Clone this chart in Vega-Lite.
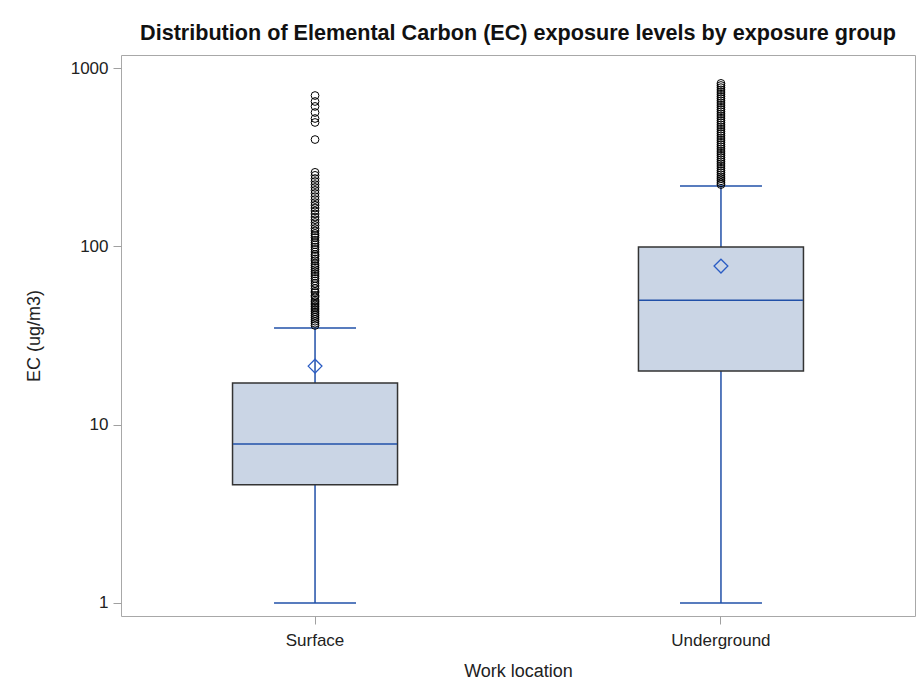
{
  "$schema": "https://vega.github.io/schema/vega-lite/v6.json",
  "width": 794,
  "height": 561,
  "autosize": {"type": "none"},
  "padding": {"left": 121, "top": 55, "right": 8, "bottom": 84},
  "background": "white",
  "title": {
    "text": "Distribution of Elemental Carbon (EC) exposure levels by exposure group",
    "font": "Liberation Sans",
    "fontSize": 21.6,
    "fontWeight": "bold",
    "color": "#111111",
    "anchor": "middle",
    "offset": 10
  },
  "config": {
    "view": {"stroke": "#a8a8a8", "strokeWidth": 1},
    "axis": {
      "labelFont": "Liberation Sans",
      "titleFont": "Liberation Sans",
      "labelColor": "#222222",
      "titleColor": "#222222",
      "tickColor": "#a0a0a0",
      "domain": false,
      "grid": false,
      "labelFontSize": 17,
      "titleFontSize": 18,
      "titleFontWeight": "normal"
    }
  },
  "datasets": {
    "stats": [
      {"loc": "Surface", "lower": 1, "q1": 4.6, "median": 7.8, "q3": 17.1, "upper": 34.8, "mean": 21.3},
      {"loc": "Underground", "lower": 1, "q1": 20, "median": 49.8, "q3": 99, "upper": 218, "mean": 77.5}
    ],
    "outliers": [
      {"loc": "Surface", "ec": 36}, {"loc": "Surface", "ec": 37}, {"loc": "Surface", "ec": 38}, {"loc": "Surface", "ec": 39},
      {"loc": "Surface", "ec": 40}, {"loc": "Surface", "ec": 41}, {"loc": "Surface", "ec": 42}, {"loc": "Surface", "ec": 43},
      {"loc": "Surface", "ec": 44}, {"loc": "Surface", "ec": 45}, {"loc": "Surface", "ec": 46}, {"loc": "Surface", "ec": 47},
      {"loc": "Surface", "ec": 48}, {"loc": "Surface", "ec": 49}, {"loc": "Surface", "ec": 50}, {"loc": "Surface", "ec": 52},
      {"loc": "Surface", "ec": 53}, {"loc": "Surface", "ec": 55}, {"loc": "Surface", "ec": 56}, {"loc": "Surface", "ec": 58},
      {"loc": "Surface", "ec": 60}, {"loc": "Surface", "ec": 62}, {"loc": "Surface", "ec": 64}, {"loc": "Surface", "ec": 66},
      {"loc": "Surface", "ec": 68}, {"loc": "Surface", "ec": 70}, {"loc": "Surface", "ec": 72}, {"loc": "Surface", "ec": 74},
      {"loc": "Surface", "ec": 76}, {"loc": "Surface", "ec": 78}, {"loc": "Surface", "ec": 80}, {"loc": "Surface", "ec": 83},
      {"loc": "Surface", "ec": 85}, {"loc": "Surface", "ec": 88}, {"loc": "Surface", "ec": 90}, {"loc": "Surface", "ec": 93},
      {"loc": "Surface", "ec": 96}, {"loc": "Surface", "ec": 99}, {"loc": "Surface", "ec": 102}, {"loc": "Surface", "ec": 105},
      {"loc": "Surface", "ec": 108}, {"loc": "Surface", "ec": 112}, {"loc": "Surface", "ec": 115}, {"loc": "Surface", "ec": 118},
      {"loc": "Surface", "ec": 122}, {"loc": "Surface", "ec": 126}, {"loc": "Surface", "ec": 131}, {"loc": "Surface", "ec": 136},
      {"loc": "Surface", "ec": 141}, {"loc": "Surface", "ec": 146}, {"loc": "Surface", "ec": 152}, {"loc": "Surface", "ec": 158},
      {"loc": "Surface", "ec": 164}, {"loc": "Surface", "ec": 170}, {"loc": "Surface", "ec": 176}, {"loc": "Surface", "ec": 183},
      {"loc": "Surface", "ec": 190}, {"loc": "Surface", "ec": 198}, {"loc": "Surface", "ec": 206}, {"loc": "Surface", "ec": 214},
      {"loc": "Surface", "ec": 222}, {"loc": "Surface", "ec": 231}, {"loc": "Surface", "ec": 240}, {"loc": "Surface", "ec": 250},
      {"loc": "Surface", "ec": 260}, {"loc": "Surface", "ec": 397}, {"loc": "Surface", "ec": 495}, {"loc": "Surface", "ec": 521},
      {"loc": "Surface", "ec": 563}, {"loc": "Surface", "ec": 609}, {"loc": "Surface", "ec": 649}, {"loc": "Surface", "ec": 701},
      {"loc": "Underground", "ec": 222}, {"loc": "Underground", "ec": 227}, {"loc": "Underground", "ec": 233}, {"loc": "Underground", "ec": 239},
      {"loc": "Underground", "ec": 245}, {"loc": "Underground", "ec": 252}, {"loc": "Underground", "ec": 259}, {"loc": "Underground", "ec": 266},
      {"loc": "Underground", "ec": 274}, {"loc": "Underground", "ec": 282}, {"loc": "Underground", "ec": 290}, {"loc": "Underground", "ec": 298},
      {"loc": "Underground", "ec": 306}, {"loc": "Underground", "ec": 315}, {"loc": "Underground", "ec": 324}, {"loc": "Underground", "ec": 333},
      {"loc": "Underground", "ec": 342}, {"loc": "Underground", "ec": 352}, {"loc": "Underground", "ec": 362}, {"loc": "Underground", "ec": 372},
      {"loc": "Underground", "ec": 383}, {"loc": "Underground", "ec": 394}, {"loc": "Underground", "ec": 405}, {"loc": "Underground", "ec": 417},
      {"loc": "Underground", "ec": 429}, {"loc": "Underground", "ec": 441}, {"loc": "Underground", "ec": 454}, {"loc": "Underground", "ec": 467},
      {"loc": "Underground", "ec": 480}, {"loc": "Underground", "ec": 494}, {"loc": "Underground", "ec": 508}, {"loc": "Underground", "ec": 523},
      {"loc": "Underground", "ec": 538}, {"loc": "Underground", "ec": 553}, {"loc": "Underground", "ec": 569}, {"loc": "Underground", "ec": 585},
      {"loc": "Underground", "ec": 602}, {"loc": "Underground", "ec": 619}, {"loc": "Underground", "ec": 637}, {"loc": "Underground", "ec": 655},
      {"loc": "Underground", "ec": 674}, {"loc": "Underground", "ec": 693}, {"loc": "Underground", "ec": 713}, {"loc": "Underground", "ec": 733},
      {"loc": "Underground", "ec": 754}, {"loc": "Underground", "ec": 776}, {"loc": "Underground", "ec": 798}, {"loc": "Underground", "ec": 820}
    ]
  },
  "encoding": {
    "x": {
      "field": "loc",
      "type": "nominal",
      "sort": ["Surface", "Underground"],
      "scale": {"type": "band", "paddingInner": 0.5, "paddingOuter": 0.228},
      "axis": {"title": "Work location", "labelAngle": 0, "tickSize": 8, "labelPadding": 8, "titlePadding": 14}
    }
  },
  "layer": [
    {
      "data": {"name": "stats"},
      "mark": {"type": "rule", "color": "#2150A8", "strokeWidth": 1.5},
      "encoding": {
        "y": {
          "field": "lower",
          "type": "quantitative",
          "scale": {"type": "log", "domain": [0.845, 1183], "nice": false, "zero": false},
          "axis": {"title": "EC (ug/m3)", "values": [1, 10, 100, 1000], "format": "d", "tickSize": 8, "labelPadding": 5, "titlePadding": 27}
        },
        "y2": {"field": "upper"}
      }
    },
    {
      "data": {"name": "stats"},
      "mark": {"type": "tick", "orient": "horizontal", "size": 82, "thickness": 1.5, "color": "#2150A8", "opacity": 1},
      "encoding": {"y": {"field": "lower", "type": "quantitative"}}
    },
    {
      "data": {"name": "stats"},
      "mark": {"type": "tick", "orient": "horizontal", "size": 82, "thickness": 1.5, "color": "#2150A8", "opacity": 1},
      "encoding": {"y": {"field": "upper", "type": "quantitative"}}
    },
    {
      "data": {"name": "stats"},
      "mark": {"type": "bar", "size": 165, "fill": "#CAD5E5", "stroke": "#333333", "strokeWidth": 1.5},
      "encoding": {
        "y": {"field": "q1", "type": "quantitative"},
        "y2": {"field": "q3"}
      }
    },
    {
      "data": {"name": "stats"},
      "mark": {"type": "tick", "orient": "horizontal", "size": 164, "thickness": 1.5, "color": "#2150A8", "opacity": 1},
      "encoding": {"y": {"field": "median", "type": "quantitative"}}
    },
    {
      "data": {"name": "stats"},
      "mark": {"type": "point", "shape": "diamond", "size": 190, "filled": false, "color": "#2A5CC4", "strokeWidth": 1.3, "opacity": 1},
      "encoding": {"y": {"field": "mean", "type": "quantitative"}}
    },
    {
      "data": {"name": "outliers"},
      "mark": {"type": "point", "shape": "circle", "size": 60, "filled": false, "color": "#000000", "strokeWidth": 1, "opacity": 1},
      "encoding": {"y": {"field": "ec", "type": "quantitative"}}
    }
  ]
}
